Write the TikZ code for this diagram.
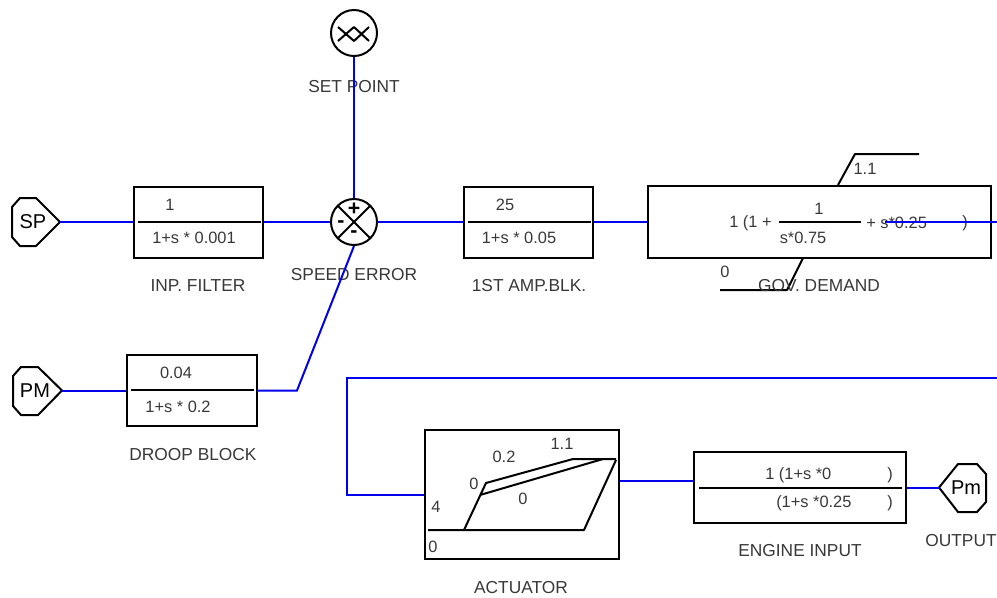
\documentclass[tikz,border=0pt]{standalone}
\usepackage{fontspec}
\setmainfont{Liberation Sans}
\newcommand{\pxfont}{\fontsize{12.3pt}{14pt}\selectfont}
\newcommand{\capfont}{\fontsize{13pt}{15pt}\selectfont}
\definecolor{wireblue}{RGB}{0,0,235}
\tikzset{
  x=0.75pt,y=-0.75pt,
  lbl/.style={inner sep=0pt,text=black!78,font=\pxfont},
  captxt/.style={inner sep=0pt,text=black!78,font=\capfont},
  tag/.style={inner sep=0pt,text=black,font=\fontsize{15pt}{16pt}\selectfont},
  sym/.style={inner sep=0pt,text=black,font=\fontsize{16pt}{17pt}\selectfont\bfseries},
  blk/.style={draw=black,line width=1.5pt,line join=miter,inner sep=0pt},
  ln/.style={draw=black,line width=1.5pt,line join=round},
  wire/.style={draw=wireblue,line width=1.5pt,line join=miter},
  disc/.style={circle,draw=black,line width=1.5pt,minimum size=34.5pt,inner sep=0pt},
}
\begin{document}
\begin{tikzpicture}
\useasboundingbox (0,0) rectangle (997,597);
\clip (0,0) rectangle (997,597);
% blocks
\node[blk,minimum width=96.75pt,minimum height=53.25pt] (filter) at (198.5,222) {};
\node[blk,minimum width=96.75pt,minimum height=53.25pt] (amp) at (528.5,222) {};
\node[blk,minimum width=257.25pt,minimum height=54pt] (gov) at (819.5,222) {};
\node[blk,minimum width=97.5pt,minimum height=53.25pt] (droop) at (192,390.5) {};
\node[blk,minimum width=145.5pt,minimum height=96.75pt] (act) at (522,494.5) {};
\node[blk,minimum width=159pt,minimum height=53.25pt] (eng) at (800,487.5) {};
\node[disc] (setp) at (354,33) {};
\node[disc] (sum) at (354,222) {};
% terminals
\draw[ln] (60,222) -- (36,198) -- (20,198) -- (12,207) -- (12,237) -- (20,246) -- (36,246) -- cycle;
\draw[ln] (62,390.5) -- (38,367) -- (21,367) -- (13,376) -- (13,406) -- (21,415) -- (38,415) -- cycle;
\draw[ln] (939,487.5) -- (958,464) -- (977,464) -- (986,474) -- (986,502) -- (977,512) -- (958,512) -- cycle;
\coordinate (sptip) at (60,222);
\coordinate (pmtip) at (62,390.5);
\coordinate (outtip) at (939,487.5);
\node[tag] (sptxt) at (33,222) {SP};
\node[tag] (pmtxt) at (35,391) {PM};
\node[tag] (outtxt) at (966,488) {Pm};
% symbols
\draw[ln] (338,41) -- (354,27) -- (369,41) (338,27) -- (354,41) -- (369,27);
\draw[ln] (338,206) -- (370,238) (370,206) -- (338,238);
\node[sym] (plus) at (354,209) {+};
\node[sym] (mina) at (341,224) {-};
\node[sym] (minb) at (354,234) {-};
% rules
\draw[ln] (138,222) -- (261,222);
\draw[ln] (468,222) -- (591,222);
\draw[ln] (131,390) -- (254,390);
\draw[ln] (779,222) -- (861,222);
\draw[ln] (699,488) -- (902,488);
% limiters
\draw[ln] (838,185) -- (855,154) -- (919,154);
\draw[ln] (803,258) -- (787,290) -- (720,290);
\draw[ln] (428,530) -- (584,530) -- (616,460);
\draw[ln] (464,530) -- (486,483) -- (573,459) -- (616,459);
\draw[ln] (480,495) -- (603,459);
% texts
\node[lbl] (t1) at (170,205) {1};
\node[lbl] (t2) at (194,238) {1+s * 0.001};
\node[captxt] (t3) at (198,286) {INP. FILTER};
\node[captxt] (t4) at (354,87) {SET POINT};
\node[captxt] (t5) at (354,275) {SPEED ERROR};
\node[lbl] (t6) at (505,205) {25};
\node[lbl] (t7) at (519,238) {1+s * 0.05};
\node[captxt] (t8) at (529,286) {1ST AMP.BLK.};
\node[lbl] (t9) at (865,169) {1.1};
\node[lbl] (t10) at (725,272) {0};
\node[captxt] (t11) at (819,286) {GOV. DEMAND};
\node[lbl,anchor=west] (t12) at (729,223) {1 (1 +};
\node[lbl] (t13) at (819,209) {1};
\node[lbl] (t14) at (803,238) {s*0.75};
\node[lbl,anchor=west] (t15) at (866,223) {+ s*0.25};
\node[lbl] (t16) at (965,223) {)};
\node[lbl] (t17) at (176,373) {0.04};
\node[lbl] (t18) at (178,407) {1+s * 0.2};
\node[captxt] (t19) at (193,455) {DROOP BLOCK};
\node[lbl] (t20) at (562,444) {1.1};
\node[lbl] (t21) at (504,457) {0.2};
\node[lbl] (t22) at (474,484) {0};
\node[lbl] (t23) at (523,499) {0};
\node[lbl] (t24) at (436,507) {4};
\node[lbl] (t25) at (433,547) {0};
\node[captxt] (t26) at (521,588) {ACTUATOR};
\node[lbl,anchor=west] (t27) at (765,475) {1 (1+s *0};
\node[lbl] (t28) at (890,475) {)};
\node[lbl,anchor=west] (t29) at (776,503) {(1+s *0.25};
\node[lbl] (t30) at (890,503) {)};
\node[captxt] (t31) at (800,551) {ENGINE INPUT};
\node[captxt] (t32) at (961,541) {OUTPUT};
% wires
\coordinate (govout) at (885,222);
\coordinate (govend) at (997,222);
\coordinate (fbstart) at (997,378);
\coordinate (fbtop) at (347,378);
\coordinate (fbdown) at (347,494.5);
\coordinate (drp) at (297,390.5);
\draw[wire] (setp.south) -- (sum.north);
\draw[wire] (sptip) -- (filter.west);
\draw[wire] (filter.east) -- (sum.west);
\draw[wire] (sum.east) -- (amp.west);
\draw[wire] (amp.east) -- (gov.west);
\draw[wire] (govout) -- (govend);
\draw[wire] (pmtip) -- (droop.west);
\draw[wire] (droop.east) -- (drp) -- (sum.south);
\draw[wire] (fbstart) -- (fbtop) -- (fbdown) -- (act.west);
\draw[wire] (act.east |- 0,481) -- (eng.west |- 0,481);
\draw[wire] (eng.east) -- (outtip);
\end{tikzpicture}
\end{document}
